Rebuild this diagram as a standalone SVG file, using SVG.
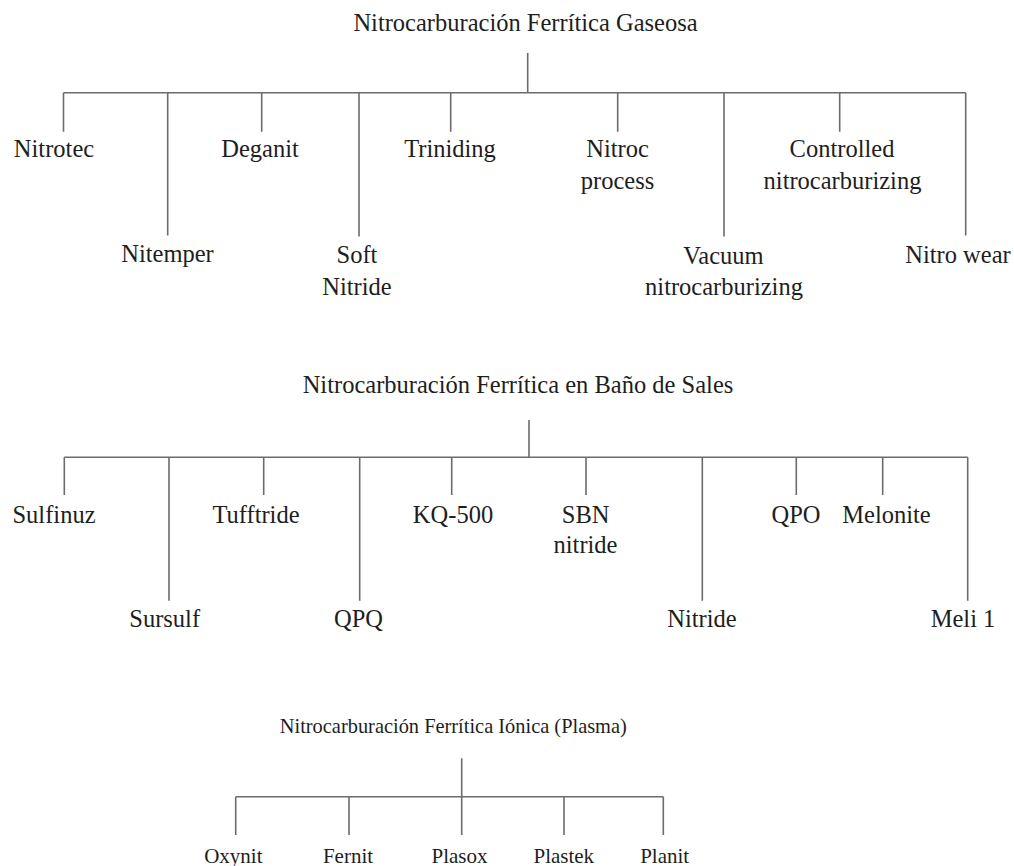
<svg xmlns="http://www.w3.org/2000/svg" width="1014" height="866" viewBox="0 0 1014 866">
<style>
#connectors path{fill:none;stroke:#6c6c6c;stroke-width:1.6}
</style>
<rect width="1014" height="866" fill="#fff"/>
<g id="connectors">
<path d="M527.7 53V92.7M63.5 92.7H965.7M63.5 92.7V131.7M167.7 92.7V235.5M261.7 92.7V131.7M359 92.7V236.5M450.7 92.7V131.7M617.7 92.7V131.7M724 92.7V236.5M839.7 92.7V131.7M965.7 92.7V235.5"/>
<path d="M529 420V457.3M64.3 457.3H967.7M64.3 457.3V495M169 457.3V600.7M263.7 457.3V495M359.7 457.3V600.7M451.7 457.3V495M586 457.3V495M702.3 457.3V600.7M796.3 457.3V495M882.7 457.3V495M967.7 457.3V600.7"/>
<path d="M461.7 758.3V796.7M235.7 796.7H663.3M235.7 796.7V835M349 796.7V835M461.7 796.7V835M564 796.7V835M663.3 796.7V835"/>
</g>
<g font-family="'Liberation Serif', 'Times New Roman', serif" font-size="24.5" fill="#1e1e1e" text-anchor="middle">
<g id="root-gaseosa"><text x="525.5" y="31">Nitrocarburación Ferrítica Gaseosa</text></g>
<g id="nitrotec"><text x="54" y="157">Nitrotec</text></g>
<g id="nitemper"><text x="167.5" y="261.5">Nitemper</text></g>
<g id="deganit"><text x="260" y="157">Deganit</text></g>
<g id="soft-nitride"><text x="357" y="263">Soft</text><text x="357" y="295">Nitride</text></g>
<g id="triniding"><text x="450" y="157">Triniding</text></g>
<g id="nitroc-process"><text x="617.5" y="157">Nitroc</text><text x="617.5" y="188.5">process</text></g>
<g id="vacuum-nitrocarburizing"><text x="723.5" y="264">Vacuum</text><text x="724" y="295">nitrocarburizing</text></g>
<g id="controlled-nitrocarburizing"><text x="842" y="157">Controlled</text><text x="842.5" y="189">nitrocarburizing</text></g>
<g id="nitro-wear"><text x="958" y="263">Nitro wear</text></g>
<g id="root-sales"><text x="518" y="392.7">Nitrocarburación Ferrítica en Baño de Sales</text></g>
<g id="sulfinuz"><text x="54" y="523">Sulfinuz</text></g>
<g id="sursulf"><text x="164.7" y="626.5">Sursulf</text></g>
<g id="tufftride"><text x="256" y="523">Tufftride</text></g>
<g id="qpq"><text x="358.5" y="626.5">QPQ</text></g>
<g id="kq-500"><text x="453" y="523">KQ-500</text></g>
<g id="sbn-nitride"><text x="585.7" y="523">SBN</text><text x="585.5" y="553.3">nitride</text></g>
<g id="nitride"><text x="702" y="626.5">Nitride</text></g>
<g id="qpo"><text x="796" y="523">QPO</text></g>
<g id="melonite"><text x="886.5" y="523">Melonite</text></g>
<g id="meli-1"><text x="963" y="626.5">Meli 1</text></g>
</g>
<g font-family="'Liberation Serif', 'Times New Roman', serif" font-size="21" fill="#1e1e1e" text-anchor="middle">
<g id="root-ionica"><text x="453.3" y="732.5" font-size="20.4">Nitrocarburación Ferrítica Iónica (Plasma)</text></g>
<g id="oxynit"><text x="233.3" y="863">Oxynit</text></g>
<g id="fernit"><text x="348" y="863">Fernit</text></g>
<g id="plasox"><text x="459.5" y="863">Plasox</text></g>
<g id="plastek"><text x="563.8" y="863">Plastek</text></g>
<g id="planit"><text x="664.7" y="863">Planit</text></g>
</g>
</svg>
